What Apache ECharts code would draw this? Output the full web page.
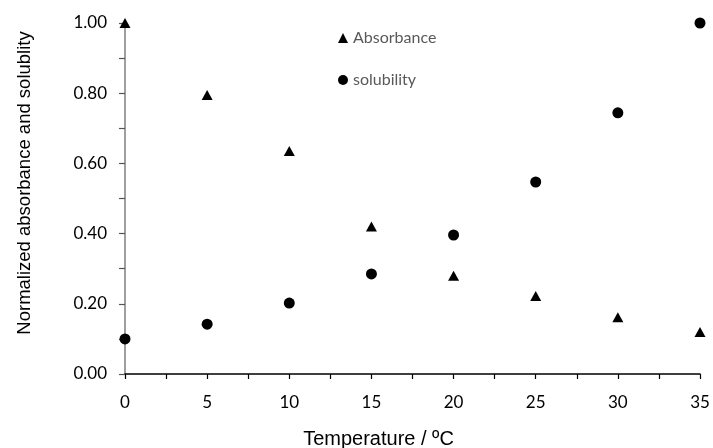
<!DOCTYPE html>
<html>
<head>
<meta charset="utf-8">
<script src="https://cdn.jsdelivr.net/npm/echarts@6/dist/echarts.min.js"></script>
<style>
  html, body { margin: 0; padding: 0; background: #fff; }
  #chart { width: 713px; height: 448px; }
</style>
</head>
<body>
<div id="chart"></div>
<script>
// Temperature (°C) at which both quantities were measured
const temperatures = [0, 5, 10, 15, 20, 25, 30, 35];
// Normalized absorbance at each temperature
const absorbance = [1.00, 0.795, 0.635, 0.42, 0.28, 0.222, 0.162, 0.12];
// Normalized solubility at each temperature
const solubility = [0.10, 0.142, 0.202, 0.285, 0.396, 0.547, 0.744, 1.00];

const pairs = (xs, ys) => xs.map((x, i) => [x, ys[i]]);

const chart = echarts.init(document.getElementById('chart'));
chart.setOption({
  animation: false,
  backgroundColor: '#ffffff',
  grid: { left: 125, right: 13, top: 23, bottom: 74, outerBoundsMode: 'none' },
  legend: {
    orient: 'vertical',
    left: 333,
    top: 25,
    itemGap: 26,
    itemWidth: 10,
    itemHeight: 10,
    textStyle: { fontFamily: 'Lato', fontSize: 16, color: '#595959' },
    data: [
      { name: 'Absorbance', icon: 'triangle' },
      { name: 'solubility', icon: 'circle' }
    ]
  },
  xAxis: {
    type: 'value',
    min: 0, max: 35, interval: 5,
    name: 'Temperature / ºC',
    nameLocation: 'middle',
    nameGap: 55,
    nameTextStyle: {
      fontFamily: 'Liberation Sans', fontSize: 20, color: '#000',
      padding: [0, 68, 0, 0]
    },
    axisLine: { show: true, onZero: false, lineStyle: { color: '#000', width: 1.5 } },
    axisTick: { show: true, inside: false, length: 5, lineStyle: { color: '#000', width: 1.2 } },
    minorTick: { show: true, splitNumber: 2, length: 5, lineStyle: { color: '#000', width: 1.2 } },
    axisLabel: { fontFamily: 'Lato', fontSize: 17, color: '#000', margin: 20 },
    splitLine: { show: false }
  },
  yAxis: {
    type: 'value',
    min: 0, max: 1, interval: 0.2,
    name: 'Normalized absorbance and solublity',
    nameLocation: 'middle',
    nameGap: 91,
    nameTextStyle: {
      fontFamily: 'Liberation Sans', fontSize: 18.5, color: '#000',
      padding: [0, 0, 0, 31]
    },
    axisLine: { show: true, lineStyle: { color: '#7f7f7f', width: 1.5 } },
    axisTick: { show: true, inside: false, length: 6, lineStyle: { color: '#555', width: 1.2 } },
    minorTick: { show: true, splitNumber: 2, length: 6, lineStyle: { color: '#555', width: 1.2 } },
    axisLabel: {
      fontFamily: 'Lato', fontSize: 17, color: '#000', margin: 18,
      formatter: v => v.toFixed(2)
    },
    splitLine: { show: false }
  },
  series: [
    {
      name: 'Absorbance',
      type: 'scatter',
      symbol: 'triangle',
      symbolSize: [11, 10],
      itemStyle: { color: '#000', opacity: 1 },
      data: pairs(temperatures, absorbance)
    },
    {
      name: 'solubility',
      type: 'scatter',
      symbol: 'circle',
      symbolSize: 11,
      itemStyle: { color: '#000', opacity: 1 },
      data: pairs(temperatures, solubility)
    }
  ]
});
</script>
</body>
</html>
